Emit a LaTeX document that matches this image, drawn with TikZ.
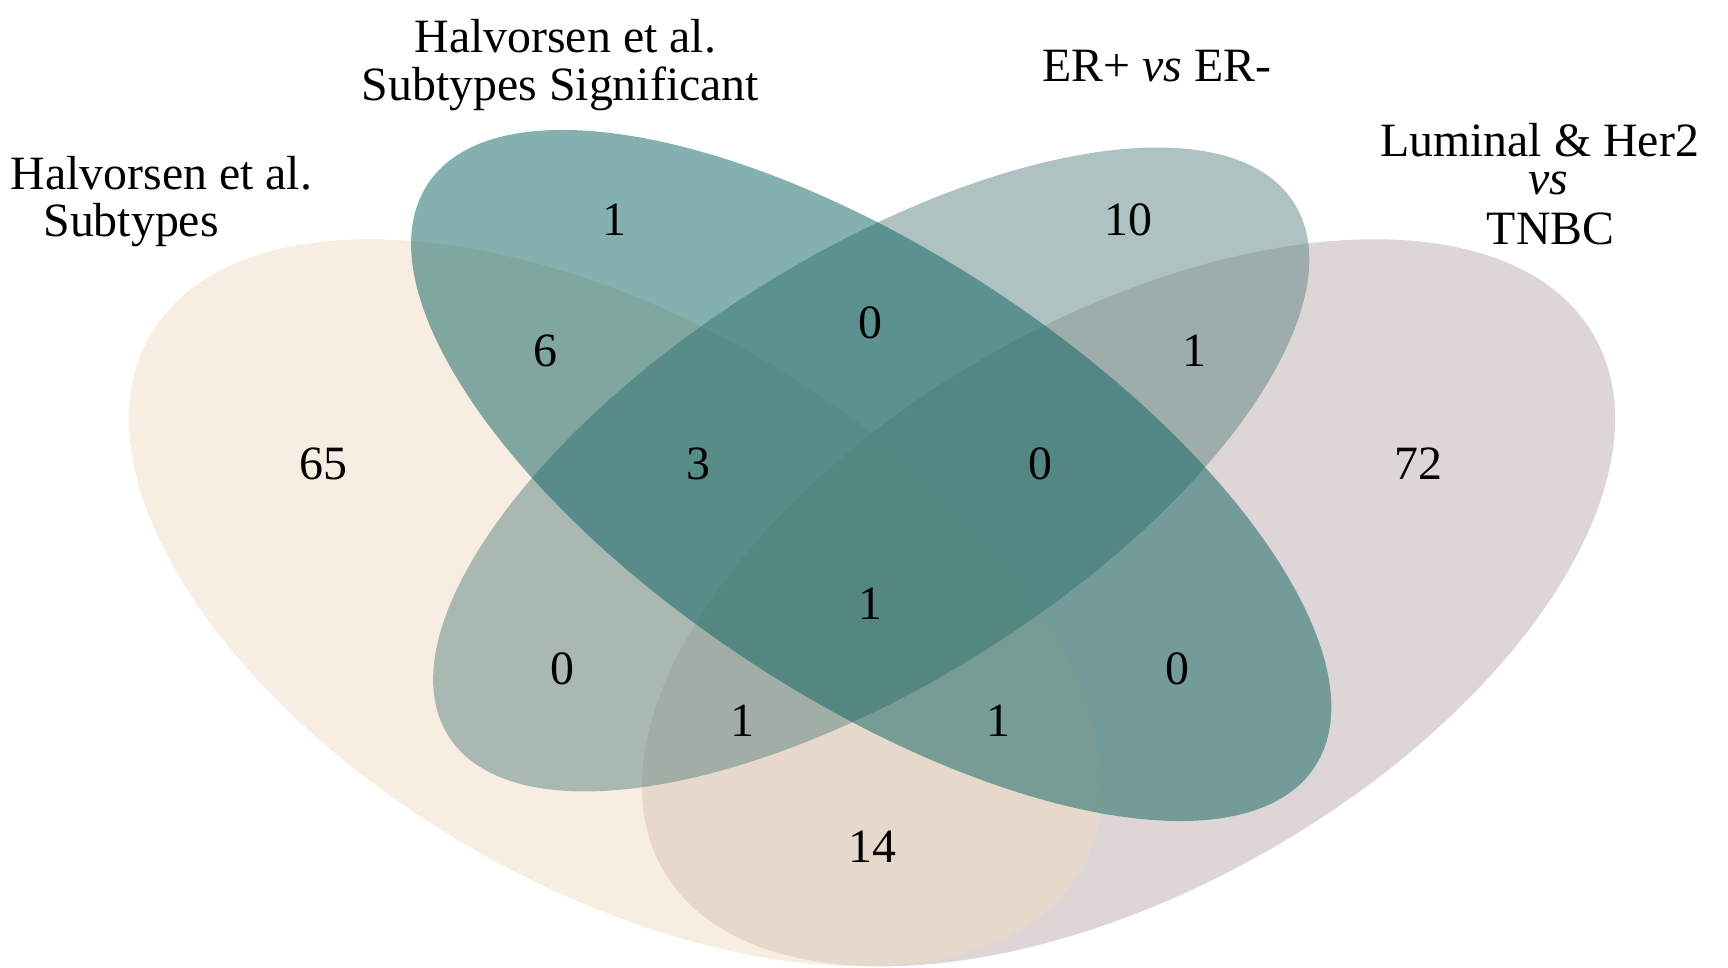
\documentclass[tikz,border=0pt]{standalone}
\usepackage{fontspec}
\setmainfont{Liberation Serif}
\definecolor{cTan}{RGB}{239,219,193}
\definecolor{cPink}{RGB}{189,172,173}
\definecolor{cTealA}{RGB}{9,97,95}
\definecolor{cTealB}{RGB}{93,133,131}
\tikzset{
  setfill/.style={fill=#1, fill opacity=0.5},
  num/.style={inner sep=0pt, anchor=center},
  lab/.style={inner sep=0pt, anchor=base},
}
\begin{document}
\begin{tikzpicture}[x=0.01cm,y=0.01cm, every node/.style={font=\fontsize{13.6}{16}\selectfont}]
\useasboundingbox (0,0) rectangle (1728,967);
\begin{scope}
\clip (0,0) rectangle (1728,967);
% Luminal & Her2 vs TNBC
\fill[setfill=cPink, rotate around={29.85:(1128.5,364.2)}] (1128.5,364.2) ellipse (536.7 and 284.3);
% Halvorsen Subtypes
\fill[setfill=cTan, rotate around={-29.85:(615.5,364.2)}] (615.5,364.2) ellipse (536.7 and 284.3);
% ER+ vs ER-
\fill[setfill=cTealB, rotate around={32.2:(871.2,497.5)}] (871.2,497.5) ellipse (499.8 and 213.7);
% Subtypes Significant
\fill[setfill=cTealA, rotate around={-33.3:(871.2,491.5)}] (871.2,491.5) ellipse (530.7 and 222.2);
\end{scope}

% counts
\node[num] (n65) at (323,503) {65};
\node[num] (n1a) at (614,747) {1};
\node[num] (n10) at (1128.5,747) {10};
\node[num] (n72) at (1418,503) {72};
\node[num] (n6) at (545.5,616.5) {6};
\node[num] (n0a) at (870.6,644) {0};
\node[num] (n1b) at (1194.6,616.5) {1};
\node[num] (n3) at (698.7,503) {3};
\node[num] (n0b) at (1040.3,503) {0};
\node[num] (n1c) at (870.6,363) {1};
\node[num] (n0c) at (562,298) {0};
\node[num] (n0d) at (1177,298) {0};
\node[num] (n1d) at (742.8,246.3) {1};
\node[num] (n1e) at (998.4,246.3) {1};
\node[num] (n14) at (872.8,120.6) {14};

% labels
\node[lab] (l1a) at (161.4,777.5) {Halvorsen et al.};
\node[lab] (l1b) at (131.1,730) {Subtypes};
\node[lab] (l2a) at (565.3,914.1) {Halvorsen et al.};
\node[lab] (l2b) at (560.4,866.7) {Subtypes Significant};
\node[lab] (l3) at (1157,885.5) {ER+ \textit{vs} ER-};
\node[lab, text depth=0pt] (l4a) at (1539.5,810.5) {Luminal \& Her2};
\node[lab, text height=7pt] (l4b) at (1548.4,772) {\textit{vs}};
\node[lab] (l4c) at (1550.6,722.4) {TNBC};
\end{tikzpicture}
\end{document}
